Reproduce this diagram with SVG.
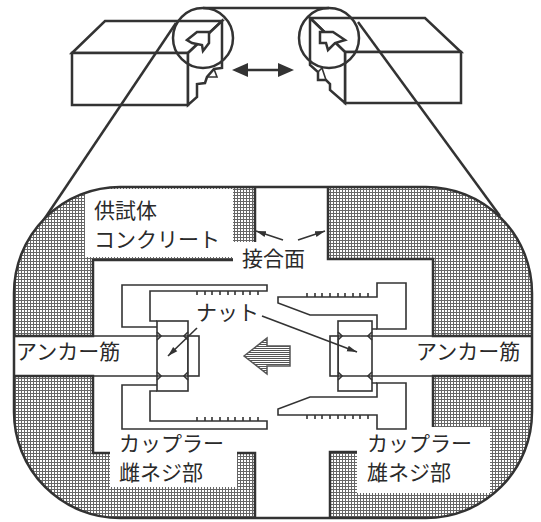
<svg xmlns="http://www.w3.org/2000/svg" width="541" height="522" viewBox="0 0 541 522">
<defs>
  <!-- fine square grid used for the concrete section -->
  <pattern id="grid" width="3" height="3" patternUnits="userSpaceOnUse">
    <rect width="3" height="3" fill="#fff"/>
    <path d="M0 0.5H3M0.5 0V3" stroke="#666" stroke-width="1"/>
  </pattern>
  <!-- horizontal stripes for the load arrow -->
  <pattern id="stripes" width="4" height="2" patternUnits="userSpaceOnUse">
    <rect width="4" height="2" fill="#fff"/>
    <path d="M0 0.5H4" stroke="#555" stroke-width="1"/>
  </pattern>
  <clipPath id="frameClip"><rect x="14" y="187" width="518" height="331" rx="106"/></clipPath>
  <marker id="ah" viewBox="0 0 10 10" refX="10" refY="5" markerWidth="10" markerHeight="10" orient="auto" markerUnits="userSpaceOnUse">
    <path d="M0 2L10 5L0 8z" fill="#333"/>
  </marker>
</defs>
<style>
  .thick{fill:none;stroke:#333;stroke-width:2.5;stroke-linejoin:miter}
  .face{fill:#fff;stroke:#333;stroke-width:2.5;stroke-linejoin:miter}
  .thin{fill:none;stroke:#333;stroke-width:1.6}
  .part{fill:#fff;stroke:#333;stroke-width:1.6}
  .lbl{font-family:"Noto Sans CJK JP","Noto Sans",sans-serif;font-size:21px;fill:#2a2a2a}
  .box{fill:#fff}
</style>

<!-- specimen blocks seen in perspective -->
<g id="block-left">
  <path class="face" d="M72 53L105 21H222L188 53Z"/>
  <rect class="face" x="72" y="53" width="116" height="52"/>
  <path class="face" d="M188 53L222 21V68L214 69L207 77L205 83L197 84V97L188 105Z"/>
  <path class="thin" d="M214 69L217 77L207 77"/>
  <path class="face" d="M187 40L197 32H209V43L203 51L202 45L192 43Z"/>
  <circle class="thick" cx="203" cy="38" r="30"/>
</g>
<g id="block-right">
  <path class="face" d="M310 18H425L461 52H345Z"/>
  <rect class="face" x="345" y="52" width="116" height="51"/>
  <path class="face" d="M310 18L345 52V103L330 90V84L326 80H318V72L310 65Z"/>
  <path class="thin" d="M318 72L322 68L326 80"/>
  <path class="face" d="M320 32H333L345 40L335 43L328 50L326 43H320Z"/>
  <circle class="thick" cx="329" cy="38" r="30"/>
</g>
<g id="move-arrow">
  <path d="M236 70H290" stroke="#333" stroke-width="2.5"/>
  <path d="M232 70L248 63V77Z M294 70L278 63V77Z" fill="#333"/>
</g>

<!-- magnification guide lines -->
<g id="guides" class="thick" stroke-width="2">
  <path d="M203 8H329"/>
  <path d="M176 23L43 221"/>
  <path d="M358 22L500 216"/>
</g>

<!-- concrete section with joint gap and anchor channels -->
<g id="concrete">
  <rect x="14" y="187" width="518" height="331" rx="106" fill="url(#grid)"/>
  <path clip-path="url(#frameClip)" d="M255 170V260H93V336H0V376H93V453H255V530H330V452H433V376H541V336H433V259H328V170Z" fill="#fff" stroke="#333" stroke-width="2.5"/>
  <rect class="box" x="85" y="189" width="148" height="68"/>
  <rect class="box" x="233" y="242" width="88" height="34"/>
  <rect class="box" x="110" y="449" width="127" height="38"/>
  <rect class="box" x="357" y="427" width="133" height="66"/>
  <rect class="thick" x="14" y="187" width="518" height="331" rx="106"/>
</g>

<!-- female-thread coupler with nut -->
<g id="coupler-female">
  <path class="thin" d="M157 321H150V291H267V285H122V327H157"/>
  <path class="thin" d="M157 391H150V421H267V429H122V385H157"/>
  <path class="thin" d="M197 291v4M205 291v4M212 291v4M220 291v4M228 291v4M235 291v4M243 291v4M250 291v4M258 291v4"/>
  <path class="thin" d="M197 421v-4M205 421v-4M212 421v-4M220 421v-4M228 421v-4M235 421v-4M243 421v-4M250 421v-4M258 421v-4"/>
  <rect class="part" x="157" y="321" width="31" height="70"/>
  <path class="thin" d="M93 336H188M93 376H188"/>
  <rect class="part" x="188" y="336" width="11" height="40"/>
  <path class="thin" d="M157 332L161 336L157 340M188 332L184 336L188 340M157 372L161 376L157 380M188 372L184 376L188 380"/>
</g>

<!-- male-thread coupler with nut -->
<g id="coupler-male">
  <path class="part" d="M278 297H377V283H406V329H377V315H310L278 303Z"/>
  <path class="part" d="M278 415H377V429H406V383H377V397H310L278 409Z"/>
  <path class="thin" d="M377 329H372M377 383H372"/>
  <path class="thin" d="M307 297v-4M315 297v-4M322 297v-4M330 297v-4M338 297v-4M345 297v-4M353 297v-4M360 297v-4M368 297v-4"/>
  <path class="thin" d="M307 415v4M315 415v4M322 415v4M330 415v4M338 415v4M345 415v4M353 415v4M360 415v4M368 415v4"/>
  <rect class="part" x="338" y="321" width="34" height="70"/>
  <path class="thin" d="M338 336H433M338 376H433"/>
  <rect class="part" x="330" y="336" width="8" height="40"/>
  <path class="thin" d="M338 332L342 336L338 340M372 332L368 336L372 340M338 372L342 376L338 380M372 372L368 376L372 380"/>
</g>

<!-- load direction arrow -->
<g id="load-arrow">
  <path d="M244 356L267 338V346H290V366H267V374Z" fill="url(#stripes)" stroke="#555" stroke-width="1.5"/>
</g>

<!-- leader lines -->
<g id="leaders">
  <path class="thin" d="M283 240L256 231" marker-end="url(#ah)"/>
  <path class="thin" d="M298 240L325 231" marker-end="url(#ah)"/>
  <path class="thin" d="M197 328L168 356" marker-end="url(#ah)"/>
  <path class="thin" d="M262 316L357 352" marker-end="url(#ah)"/>
</g>

<!-- labels -->
<g id="labels" class="lbl">
  <text x="94" y="218">供試体<tspan x="94" dy="29">コンクリート</tspan></text>
  <text x="242" y="266">接合面</text>
  <text x="196" y="320">ナット</text>
  <text x="16" y="359">アンカー筋</text>
  <text x="416" y="359">アンカー筋</text>
  <text x="119" y="451">カップラー<tspan x="119" dy="29">雌ネジ部</tspan></text>
  <text x="367" y="451">カップラー<tspan x="367" dy="29">雄ネジ部</tspan></text>
</g>
</svg>
